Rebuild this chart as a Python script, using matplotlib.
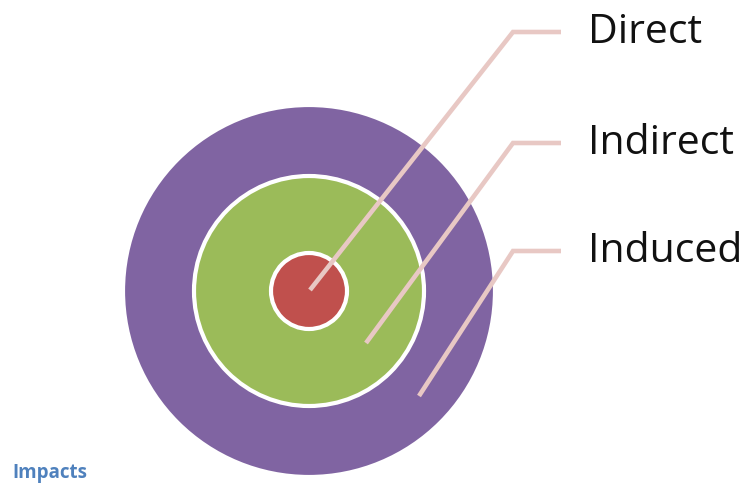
import matplotlib.pyplot as plt
from matplotlib.patches import Circle

# rings from the inside out
categories = ['Direct', 'Indirect', 'Induced']
radii = [38, 115, 186]
colors = ['#C0504D', '#9BBB59', '#8064A2']

# where each leader line starts (inside its ring) and the label row it ends on
anchors = [(310, 290), (366, 343), (419, 396)]
label_y = [32, 143, 251]

cx, cy = 309, 291

fig = plt.figure(figsize=(7.46, 4.84), dpi=100)
ax = fig.add_axes([0, 0, 1, 1])
ax.set_xlim(0, 746)
ax.set_ylim(484, 0)
ax.set_aspect('equal')
ax.axis('off')

# largest first so the smaller rings sit on top
for r, c in sorted(zip(radii, colors), reverse=True):
    ax.add_patch(Circle((cx, cy), r, facecolor=c, edgecolor='white', lw=3, zorder=1))

line_color = '#E8C8C4'
elbow_x, end_x = 513, 561
for name, (ax0, ay0), ly in zip(categories, anchors, label_y):
    ax.plot([ax0, elbow_x, end_x], [ay0, ly, ly], color=line_color, lw=3.3,
            solid_capstyle='butt', solid_joinstyle='miter', zorder=3)
    ax.text(588, ly + 1, name, fontsize=29.5, family='Open Sans', color='#111111',
            va='center', ha='left', zorder=4)

ax.text(12, 473, 'Impacts', fontsize=13.5, family='Open Sans', fontweight='bold',
        color='#4F81BD', va='center', ha='left')

fig.savefig('out.png', dpi=100)
